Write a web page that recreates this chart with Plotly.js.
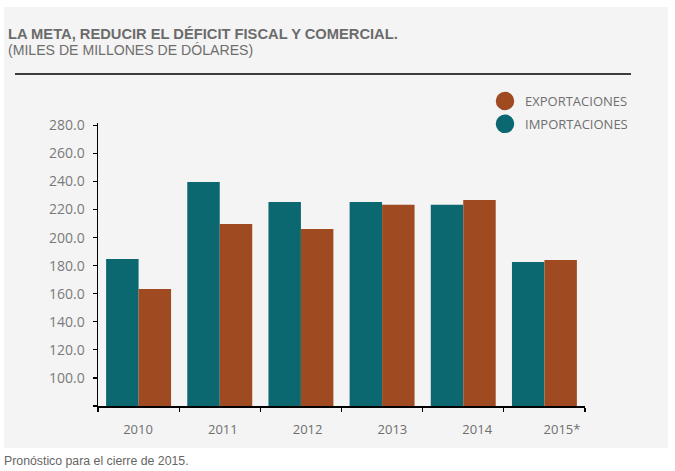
<!DOCTYPE html>
<html>
<head>
<meta charset="utf-8">
<script src="https://cdn.plot.ly/plotly-3.0.1.min.js"></script>
<style>
html,body{margin:0;padding:0;background:#ffffff;}
#chart{width:675px;height:471px;}
</style>
</head>
<body>
<div id="chart"></div>
<script>
// ---- data ----
var years = ['2010', '2011', '2012', '2013', '2014', '2015*'];
var importaciones = [184.8, 239.7, 225.4, 225.4, 223.5, 182.6];
var exportaciones = [163.4, 209.7, 206.2, 223.5, 226.8, 184.1];
var yTickVals = [80, 100, 120, 140, 160, 180, 200, 220, 240, 260, 280];
var yTickText = ['', '100.0', '120.0', '140.0', '160.0', '180.0', '200.0', '220.0', '240.0', '260.0', '280.0'];
var seriesNames = {exp: 'EXPORTACIONES', imp: 'IMPORTACIONES'};

// ---- styles ----
var TEAL = '#0b6871';
var RUST = '#a04a21';
var PANEL = '#f4f4f4';
var W = 675, H = 471;
var L = 98, R = 585, T = 123, B = 406;
function px2x(p){ return (p - L) / (R - L); }
function px2y(p){ return (B - p) / (B - T); }

var traces = [
  {type: 'bar', x: years, y: importaciones, name: seriesNames.imp,
   marker: {color: TEAL}, showlegend: false, hoverinfo: 'x+y'},
  {type: 'bar', x: years, y: exportaciones, name: seriesNames.exp,
   marker: {color: RUST}, showlegend: false, hoverinfo: 'x+y'},
  // carrier for the shifted year labels
  {type: 'scatter', mode: 'markers', x: years, y: importaciones, xaxis: 'x2', yaxis: 'y',
   marker: {opacity: 0, size: 1}, showlegend: false, hoverinfo: 'skip'},
  // legend entries (circles)
  {type: 'scatter', mode: 'markers', x: [null], y: [null], name: seriesNames.exp,
   legendgroup: 'a', marker: {color: RUST, size: 16, symbol: 'circle', line: {color: RUST, width: 2.5}}},
  {type: 'scatter', mode: 'markers', x: [null], y: [null], name: seriesNames.imp,
   legendgroup: 'b', marker: {color: TEAL, size: 16, symbol: 'circle', line: {color: TEAL, width: 2.5}}}
];

var tickFont = {family: 'Open Sans, sans-serif', size: 14, color: '#7a7a7a'};

var layout = {
  width: W, height: H,
  margin: {l: L, r: W - R, t: T, b: H - B, pad: 0, autoexpand: false},
  paper_bgcolor: '#ffffff',
  plot_bgcolor: PANEL,
  barmode: 'group',
  bargap: 0.2,
  bargroupgap: 0,
  showlegend: true,
  title: {
    text: 'LA META, REDUCIR EL DÉFICIT FISCAL Y COMERCIAL.',
    font: {family: 'Liberation Sans, Arial, sans-serif', size: 14.7, color: '#6b6b6b', weight: 700},
    xref: 'container', yref: 'container',
    x: 8 / W, xanchor: 'left',
    y: 1 - 34 / H, yanchor: 'middle'
  },
  xaxis: {
    type: 'category', range: [-0.5, 5.5],
    showline: true, linecolor: '#000000', linewidth: 1.5,
    ticks: 'outside', tickson: 'boundaries', ticklen: 4, tickcolor: '#000000', tickwidth: 1.2,
    showticklabels: false, showgrid: false, zeroline: false, fixedrange: true
  },
  xaxis2: {
    type: 'category', overlaying: 'x', anchor: 'y', side: 'bottom',
    categoryorder: 'array', categoryarray: years,
    range: [-0.4717, 5.271],
    showline: false, ticks: '', showgrid: false, zeroline: false,
    tickfont: {family: 'Open Sans, sans-serif', size: 13, color: '#6f6f6f'},
    ticklabelstandoff: 14, fixedrange: true
  },
  yaxis: {
    range: [80, 281.7],
    showline: true, linecolor: '#000000', linewidth: 1.5,
    ticks: 'outside', ticklen: 4, tickcolor: '#000000', tickwidth: 1.2,
    tickmode: 'array', tickvals: yTickVals, ticktext: yTickText,
    tickfont: tickFont, ticklabelstandoff: 5,
    showgrid: false, zeroline: false, fixedrange: true
  },
  legend: {
    xref: 'container', yref: 'container',
    x: 485 / W, xanchor: 'left',
    y: 1 - 86 / H, yanchor: 'top',
    bgcolor: 'rgba(0,0,0,0)',
    font: {family: 'Open Sans, sans-serif', size: 13, color: '#6f6f6f'},
    traceorder: 'grouped', tracegroupgap: 3
  },
  shapes: [
    {type: 'rect', xref: 'paper', yref: 'paper', layer: 'below',
     x0: px2x(4), x1: px2x(668), y0: px2y(448), y1: px2y(7),
     fillcolor: PANEL, line: {width: 0}},
    {type: 'line', xref: 'paper', yref: 'paper',
     x0: px2x(15), x1: px2x(631), y0: px2y(74), y1: px2y(74),
     line: {color: '#000000', width: 1.6}}
  ],
  annotations: [
    {text: '(MILES DE MILLONES DE DÓLARES)', xref: 'paper', yref: 'paper',
     x: px2x(6), xanchor: 'left', y: px2y(50.5), yanchor: 'middle', showarrow: false,
     font: {family: 'Liberation Sans, Arial, sans-serif', size: 14.1, color: '#6e6e6e'}},
    {text: 'Pronóstico para el cierre de 2015.', xref: 'paper', yref: 'paper',
     x: px2x(1.5), xanchor: 'left', y: px2y(461), yanchor: 'middle', showarrow: false,
     font: {family: 'Liberation Sans, Arial, sans-serif', size: 12.3, color: '#666666'}}
  ]
};

Plotly.newPlot('chart', traces, layout, {displayModeBar: false, staticPlot: true});
</script>
</body>
</html>
